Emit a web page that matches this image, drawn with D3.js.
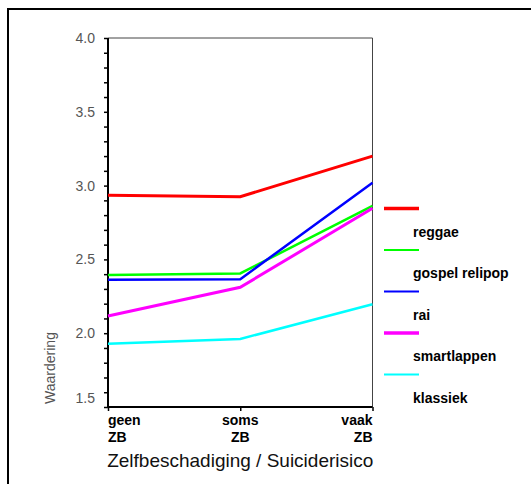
<!DOCTYPE html>
<html><head><meta charset="utf-8">
<script src="https://cdn.jsdelivr.net/npm/d3@7"></script>
<style>
html,body{margin:0;padding:0;background:#fff;}
svg{display:block;font-family:"Liberation Sans",Arial,sans-serif;}
</style></head>
<body><svg id="c" width="531" height="484"></svg>
<script>
const categories = ["geen ZB", "soms ZB", "vaak ZB"];
const seriesNames = ["reggae", "gospel relipop", "rai", "smartlappen", "klassiek"];
const seriesColors = ["#ff0000", "#00ff00", "#0000ff", "#ff00ff", "#00ffff"];
const seriesWidths = [3, 2.5, 2.5, 3, 2.5];
const reggae = [2.935, 2.925, 3.20];
const gospelRelipop = [2.395, 2.405, 2.862];
const rai = [2.362, 2.366, 3.02];
const smartlappen = [2.117, 2.311, 2.846];
const klassiek = [1.929, 1.961, 2.196];
const seriesValues = [reggae, gospelRelipop, rai, smartlappen, klassiek];
const yTickLabels = [1.5, 2.0, 2.5, 3.0, 3.5, 4.0];
const yMinorTicks = d3.range(15, 41).map(d => d / 10);

const svg = d3.select("#c");
const L = 108, R = 372.5, T = 38, B = 407;

// outer frame
svg.append("rect").attr("x", 8).attr("y", 9).attr("width", 600).attr("height", 600)
  .attr("fill", "none").attr("stroke", "#000").attr("stroke-width", 2);

const x = d3.scalePoint().domain(categories).range([L, R]);
const y = d3.scaleLinear().domain([1.5, 4.0]).range([B, T]);

// top/right frame of plot
svg.append("path").attr("d", `M${L},${T}H${R}V${B}`)
  .attr("fill", "none").attr("stroke", "#444").attr("stroke-width", 1);

// left axis
const yAxis = d3.axisLeft(y).tickValues(yMinorTicks).tickSize(4).tickPadding(9)
  .tickFormat(d => yTickLabels.some(v => Math.abs(v - d) < 1e-6) ? d3.format(".1f")(d) : "");
const gy = svg.append("g").attr("transform", `translate(${L},0)`).call(yAxis);
gy.select(".domain").attr("stroke", "#000").attr("stroke-width", 2).attr("d", `M0,${T}V${B}`);
gy.selectAll(".tick line").attr("stroke", "#000").attr("stroke-width", 1.5);
gy.selectAll(".tick text").attr("fill", "#555").attr("font-size", 14)
  .attr("dy", d => Math.abs(d - 1.5) < 1e-6 ? "-0.35em" : "0.32em");

// bottom axis
const xAxis = d3.axisBottom(x).tickSize(4).tickFormat("");
const gx = svg.append("g").attr("transform", `translate(0,${B})`).call(xAxis);
gx.select(".domain").attr("stroke", "#000").attr("stroke-width", 2).attr("d", `M${L},0H${R}`);
gx.selectAll(".tick line").attr("stroke", "#000").attr("stroke-width", 1.5);

// category labels
const anchors = ["start", "middle", "end"];
categories.forEach((c, i) => {
  const parts = c.split(" ");
  const t = svg.append("text").attr("x", x(c)).attr("y", 425)
    .attr("text-anchor", anchors[i]).attr("font-weight", "bold").attr("font-size", 14).attr("fill", "#000");
  parts.forEach((p, j) => t.append("tspan").attr("x", x(c)).attr("dy", j === 0 ? 0 : 17).text(p));
});

// axis titles
svg.append("text").attr("x", (L + R) / 2).attr("y", 467).attr("text-anchor", "middle")
  .attr("font-size", 19).attr("fill", "#111").text("Zelfbeschadiging / Suiciderisico");
svg.append("text").attr("transform", "translate(55,368) rotate(-90)").attr("text-anchor", "middle")
  .attr("font-size", 14).attr("fill", "#555").text("Waardering");

// lines
const line = d3.line().x((d, i) => x(categories[i])).y(d => y(d));
seriesValues.forEach((vals, k) => {
  svg.append("path").datum(vals).attr("d", line).attr("fill", "none")
    .attr("stroke", seriesColors[k]).attr("stroke-width", seriesWidths[k]);
});

// legend (line sits above its label, as in the original)
const legendWidths = [3.5, 2, 2, 3.5, 2];
seriesNames.forEach((n, k) => {
  const ly = 208.5 + k * 41.5;
  svg.append("line").attr("x1", 384).attr("x2", 419).attr("y1", ly).attr("y2", ly)
    .attr("stroke", seriesColors[k]).attr("stroke-width", legendWidths[k]);
  svg.append("text").attr("x", 413).attr("y", ly + 28).attr("font-size", 14)
    .attr("font-weight", "bold").attr("fill", "#000").text(n);
});
</script></body></html>
